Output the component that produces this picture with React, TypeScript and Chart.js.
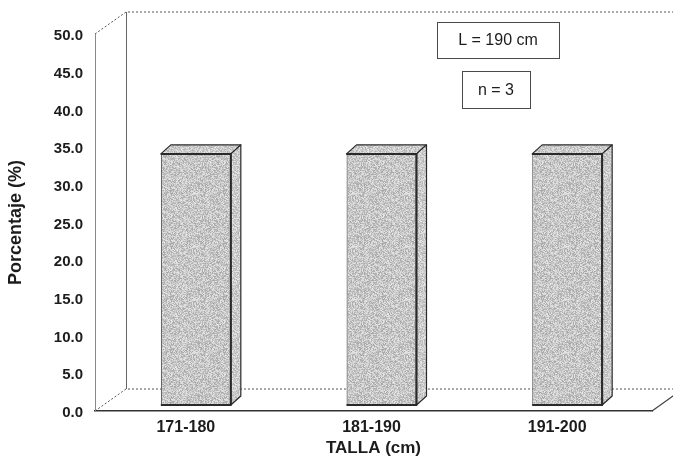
import React, { useEffect, useRef } from 'react';
import { Chart, registerables } from 'chart.js';

Chart.register(...registerables);

// ---- data ----
const categories: string[] = ['171-180', '181-190', '191-200'];
const percentages: number[] = [33.3, 33.3, 33.3];
const yMin = 0;
const yMax = 50;
const yStep = 5;
const noteLines: string[] = ['L = 190 cm', 'n = 3'];
const xTitle = 'TALLA (cm)';
const yTitle = 'Porcentaje (%)';

const FONT = '"Liberation Sans", Arial, Helvetica, sans-serif';
const INK = '#1c1c1c';

// 3D geometry (styling)
const WALL_DX = 31;
const WALL_DY = 22;
const BAR_SHIFT_X = 8;
const BAR_SHIFT_Y = 6;
const BAR_DEPTH_X = 10;
const BAR_DEPTH_Y = 9;

function makeSpeckle(ctx: CanvasRenderingContext2D, base: number, spread: number, seed: number) {
  const size = 53;
  const c = document.createElement('canvas');
  c.width = size;
  c.height = size;
  const g = c.getContext('2d')!;
  const img = g.createImageData(size, size);
  for (let i = 0; i < size * size; i++) {
    const h = Math.sin((i + seed) * 12.9898 + 78.233) * 43758.5453;
    const f = h - Math.floor(h);
    const v = Math.max(0, Math.min(255, Math.round(base + (f - 0.5) * spread)));
    img.data[i * 4] = v;
    img.data[i * 4 + 1] = v;
    img.data[i * 4 + 2] = v;
    img.data[i * 4 + 3] = 255;
  }
  g.putImageData(img, 0, 0);
  return ctx.createPattern(c, 'repeat')!;
}

export default function App() {
  const ref = useRef<HTMLCanvasElement | null>(null);

  useEffect(() => {
    const canvas = ref.current!;
    const ctx2d = canvas.getContext('2d')!;
    const frontPattern = makeSpeckle(ctx2d, 198, 66, 1);
    const sidePattern = makeSpeckle(ctx2d, 204, 60, 777);

    const frame3d = {
      id: 'frame3d',
      beforeDraw(chart: any) {
        const { ctx, chartArea: a } = chart;
        ctx.save();
        ctx.fillStyle = '#ffffff';
        ctx.fillRect(0, 0, chart.width, chart.height);
        ctx.strokeStyle = '#555';
        ctx.lineWidth = 1;
        ctx.setLineDash([2, 2]);
        ctx.beginPath();
        // top-left diagonal
        ctx.moveTo(a.left, a.top);
        ctx.lineTo(a.left + WALL_DX, a.top - WALL_DY);
        // top back edge
        ctx.lineTo(a.right + WALL_DX, a.top - WALL_DY);
        // bottom-left diagonal
        ctx.moveTo(a.left, a.bottom);
        ctx.lineTo(a.left + WALL_DX, a.bottom - WALL_DY);
        // back floor line
        ctx.lineTo(a.right + WALL_DX, a.bottom - WALL_DY);
        ctx.stroke();
        ctx.setLineDash([]);
        // back wall vertical
        ctx.strokeStyle = '#666';
        ctx.beginPath();
        ctx.moveTo(a.left + WALL_DX + 0.5, a.top - WALL_DY);
        ctx.lineTo(a.left + WALL_DX + 0.5, a.bottom - WALL_DY);
        ctx.stroke();
        // bottom-right floor diagonal
        ctx.strokeStyle = '#444';
        ctx.lineWidth = 1.2;
        ctx.beginPath();
        ctx.moveTo(a.right, a.bottom);
        ctx.lineTo(a.right + WALL_DX, a.bottom - WALL_DY);
        ctx.stroke();
        ctx.restore();
      },
      beforeDatasetsDraw(chart: any) {
        chart.ctx.save();
        chart.ctx.translate(BAR_SHIFT_X, -BAR_SHIFT_Y);
      },
      afterDatasetsDraw(chart: any) {
        const { ctx } = chart;
        const meta = chart.getDatasetMeta(0);
        meta.data.forEach((bar: any) => {
          const p = bar.getProps(['x', 'y', 'base', 'width'], true);
          const l = p.x - p.width / 2;
          const r = p.x + p.width / 2;
          const t = p.y;
          const b = p.base;
          ctx.lineWidth = 1.2;
          ctx.strokeStyle = '#2a2a2a';
          ctx.lineJoin = 'round';
          // top face
          ctx.fillStyle = sidePattern;
          ctx.beginPath();
          ctx.moveTo(l, t);
          ctx.lineTo(l + BAR_DEPTH_X, t - BAR_DEPTH_Y);
          ctx.lineTo(r + BAR_DEPTH_X, t - BAR_DEPTH_Y);
          ctx.lineTo(r, t);
          ctx.closePath();
          ctx.fill();
          ctx.stroke();
          // side face
          ctx.beginPath();
          ctx.moveTo(r, t);
          ctx.lineTo(r + BAR_DEPTH_X, t - BAR_DEPTH_Y);
          ctx.lineTo(r + BAR_DEPTH_X, b - BAR_DEPTH_Y);
          ctx.lineTo(r, b);
          ctx.closePath();
          ctx.fill();
          ctx.stroke();
          // front right edge and top edge emphasis
          ctx.lineWidth = 2;
          ctx.beginPath();
          ctx.moveTo(l, t);
          ctx.lineTo(r, t);
          ctx.lineTo(r, b);
          ctx.lineTo(l, b);
          ctx.stroke();
        });
        ctx.restore();
      },
      afterDraw(chart: any) {
        const { ctx } = chart;
        const boxes = [
          { cx: 498, cy: 40, w: 122, h: 36 },
          { cx: 496, cy: 89.5, w: 68, h: 37 },
        ];
        ctx.save();
        ctx.font = `16px ${FONT}`;
        ctx.fillStyle = INK;
        ctx.strokeStyle = '#4a4a4a';
        ctx.lineWidth = 1;
        ctx.textAlign = 'center';
        ctx.textBaseline = 'middle';
        noteLines.forEach((txt, i) => {
          const bx = boxes[i];
          ctx.strokeRect(Math.round(bx.cx - bx.w / 2) + 0.5, Math.round(bx.cy - bx.h / 2) + 0.5, bx.w, bx.h);
          ctx.fillText(txt, bx.cx, bx.cy + 1);
        });
        ctx.restore();
      },
    };

    const chart = new Chart(canvas, {
      type: 'bar',
      data: {
        labels: categories,
        datasets: [
          {
            data: percentages,
            backgroundColor: frontPattern as any,
            borderColor: '#666',
            borderWidth: 1.2,
            categoryPercentage: 1,
            barPercentage: 0.377,
          },
        ],
      },
      options: {
        animation: false,
        responsive: false,
        devicePixelRatio: 1,
        layout: { padding: { left: 0, right: 21, top: 34, bottom: 0 } },
        plugins: { legend: { display: false }, tooltip: { enabled: false } },
        scales: {
          x: {
            grid: { display: false, drawTicks: false },
            border: { display: true, color: '#333', width: 1.5 },
            ticks: {
              padding: 7,
              labelOffset: -2,
              color: INK,
              font: { family: FONT, size: 16, weight: 'bold' },
            },
            title: {
              display: true,
              text: xTitle,
              color: INK,
              font: { family: FONT, size: 17, weight: 'bold' },
              padding: { top: 0, bottom: 7 },
            },
            afterFit: (s: any) => {
              s.height = 55;
            },
          },
          y: {
            min: yMin,
            max: yMax,
            grid: { display: false, drawTicks: false },
            border: { display: true, color: '#888', width: 1 },
            ticks: {
              stepSize: yStep,
              padding: 12,
              labelOffset: 2,
              color: INK,
              font: { family: FONT, size: 15, weight: 'bold' },
              callback: (v: any) => Number(v).toFixed(1),
            },
            title: {
              display: true,
              text: yTitle,
              color: INK,
              font: { family: FONT, size: 18, weight: 'bold' },
              padding: { top: 5, bottom: 0 },
            },
            afterFit: (s: any) => {
              s.width = 95;
            },
          },
        },
      },
      plugins: [frame3d],
    } as any);

    return () => chart.destroy();
  }, []);

  return (
    <div style={{ position: 'fixed', left: 0, top: 0, width: 673, height: 466, background: '#fff' }}>
      <canvas ref={ref} width={673} height={466} style={{ display: 'block', width: 673, height: 466 }} />
    </div>
  );
}
